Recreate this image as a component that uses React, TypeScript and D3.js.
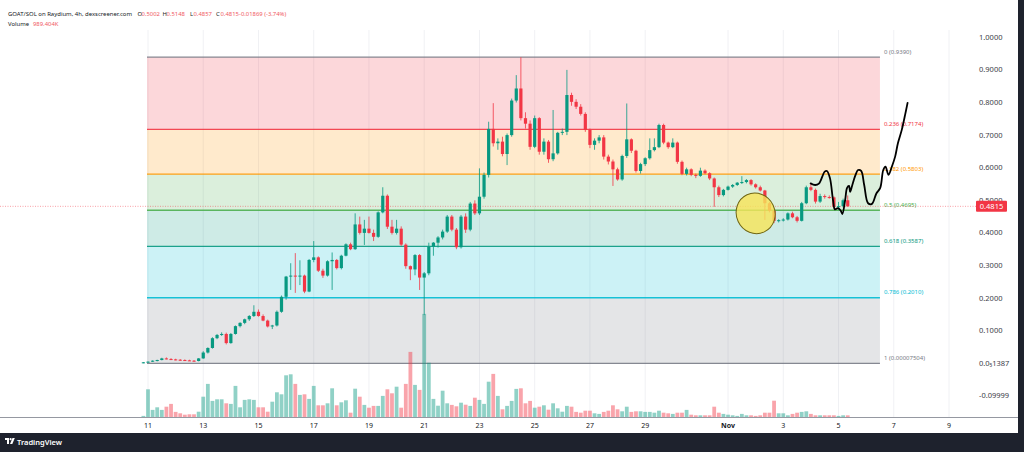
import React from 'react';
import * as d3 from 'd3';

// ---- data ----
const START = Date.UTC(2024, 9, 10, 20); // first 4h candle
const STEP = 4 * 3600 * 1000;

const opens = [
  0.0001, 0.003, 0.005, 0.008, 0.010, 0.015, 0.013, 0.012, 0.011, 0.010,
  0.009, 0.008, 0.007, 0.015, 0.033, 0.047, 0.077, 0.087, 0.090, 0.062,
  0.090, 0.114, 0.124, 0.135, 0.145, 0.158, 0.145, 0.131, 0.113, 0.116,
  0.158, 0.204, 0.266, 0.269, 0.268, 0.269, 0.220, 0.317, 0.325, 0.284,
  0.269, 0.313, 0.317, 0.292, 0.330, 0.365, 0.350, 0.426, 0.400, 0.413,
  0.400, 0.388, 0.463, 0.514, 0.419, 0.400, 0.413, 0.364, 0.298, 0.288,
  0.332, 0.263, 0.276, 0.358, 0.370, 0.386, 0.404, 0.450, 0.410, 0.356,
  0.450, 0.410, 0.490, 0.460, 0.511, 0.578, 0.719, 0.675, 0.680, 0.642,
  0.700, 0.806, 0.843, 0.752, 0.735, 0.664, 0.752, 0.649, 0.680, 0.626,
  0.644, 0.707, 0.710, 0.823, 0.802, 0.787, 0.765, 0.716, 0.670, 0.683,
  0.693, 0.634, 0.619, 0.595, 0.564, 0.636, 0.687, 0.652, 0.590, 0.611,
  0.629, 0.654, 0.663, 0.731, 0.677, 0.663, 0.677, 0.618, 0.581, 0.595,
  0.578, 0.575, 0.591, 0.583, 0.567, 0.540, 0.516, 0.532, 0.542, 0.547,
  0.554, 0.556, 0.562, 0.549, 0.540, 0.530, 0.491, 0.468, 0.437, 0.439,
  0.441, 0.460, 0.448, 0.437, 0.491, 0.540, 0.532, 0.496, 0.513, 0.510,
  0.509, 0.480, 0.482, 0.5002,
];
const highs = [
  0.004, 0.006, 0.009, 0.011, 0.017, 0.018, 0.016, 0.014, 0.013, 0.012,
  0.011, 0.010, 0.016, 0.037, 0.049, 0.080, 0.090, 0.095, 0.094, 0.093,
  0.116, 0.126, 0.137, 0.148, 0.178, 0.165, 0.150, 0.134, 0.118, 0.162,
  0.208, 0.268, 0.307, 0.338, 0.316, 0.272, 0.320, 0.375, 0.328, 0.290,
  0.316, 0.340, 0.320, 0.333, 0.368, 0.370, 0.460, 0.450, 0.440, 0.450,
  0.410, 0.466, 0.540, 0.518, 0.440, 0.440, 0.420, 0.368, 0.300, 0.335,
  0.335, 0.280, 0.370, 0.372, 0.390, 0.410, 0.455, 0.455, 0.415, 0.455,
  0.460, 0.495, 0.500, 0.598, 0.585, 0.741, 0.798, 0.690, 0.695, 0.705,
  0.812, 0.884, 0.939, 0.770, 0.745, 0.760, 0.755, 0.690, 0.685, 0.777,
  0.710, 0.720, 0.900, 0.830, 0.810, 0.795, 0.770, 0.720, 0.690, 0.700,
  0.700, 0.640, 0.625, 0.600, 0.640, 0.797, 0.690, 0.655, 0.615, 0.632,
  0.690, 0.690, 0.735, 0.735, 0.680, 0.690, 0.680, 0.622, 0.600, 0.598,
  0.582, 0.600, 0.595, 0.586, 0.570, 0.545, 0.535, 0.545, 0.550, 0.556,
  0.574, 0.565, 0.565, 0.552, 0.545, 0.532, 0.495, 0.470, 0.442, 0.445,
  0.463, 0.465, 0.452, 0.495, 0.545, 0.550, 0.536, 0.520, 0.518, 0.515,
  0.512, 0.495, 0.505, 0.5148,
];
const lows = [
  0.0001, 0.002, 0.004, 0.006, 0.009, 0.012, 0.010, 0.009, 0.008, 0.008,
  0.007, 0.006, 0.006, 0.014, 0.030, 0.045, 0.074, 0.084, 0.058, 0.060,
  0.088, 0.110, 0.120, 0.130, 0.142, 0.143, 0.129, 0.110, 0.105, 0.113,
  0.155, 0.195, 0.225, 0.216, 0.240, 0.215, 0.218, 0.310, 0.280, 0.262,
  0.266, 0.225, 0.288, 0.288, 0.328, 0.347, 0.348, 0.395, 0.363, 0.398,
  0.375, 0.385, 0.460, 0.412, 0.395, 0.395, 0.360, 0.290, 0.255, 0.270,
  0.225, 0.148, 0.270, 0.330, 0.355, 0.380, 0.400, 0.405, 0.350, 0.352,
  0.400, 0.405, 0.455, 0.455, 0.505, 0.570, 0.665, 0.655, 0.635, 0.608,
  0.695, 0.800, 0.745, 0.720, 0.655, 0.660, 0.640, 0.640, 0.615, 0.620,
  0.640, 0.700, 0.700, 0.790, 0.780, 0.760, 0.710, 0.660, 0.655, 0.675,
  0.625, 0.610, 0.544, 0.560, 0.560, 0.630, 0.645, 0.585, 0.582, 0.605,
  0.625, 0.650, 0.660, 0.672, 0.658, 0.660, 0.612, 0.577, 0.576, 0.574,
  0.568, 0.572, 0.580, 0.562, 0.480, 0.510, 0.512, 0.530, 0.538, 0.544,
  0.550, 0.552, 0.545, 0.536, 0.527, 0.440, 0.463, 0.430, 0.432, 0.435,
  0.438, 0.445, 0.432, 0.435, 0.488, 0.528, 0.490, 0.492, 0.505, 0.505,
  0.475, 0.470, 0.478, 0.4800,
];
const closes = [
  0.003, 0.005, 0.008, 0.010, 0.015, 0.013, 0.012, 0.010, 0.010, 0.009,
  0.008, 0.007, 0.015, 0.033, 0.047, 0.077, 0.087, 0.090, 0.062, 0.090,
  0.114, 0.124, 0.135, 0.145, 0.158, 0.145, 0.131, 0.113, 0.116, 0.158,
  0.204, 0.266, 0.269, 0.268, 0.269, 0.220, 0.317, 0.325, 0.284, 0.269,
  0.313, 0.317, 0.292, 0.330, 0.365, 0.350, 0.426, 0.400, 0.413, 0.400,
  0.388, 0.463, 0.514, 0.419, 0.400, 0.413, 0.364, 0.298, 0.288, 0.332,
  0.263, 0.276, 0.358, 0.370, 0.386, 0.404, 0.450, 0.410, 0.356, 0.450,
  0.410, 0.490, 0.460, 0.511, 0.578, 0.719, 0.675, 0.680, 0.642, 0.700,
  0.806, 0.843, 0.752, 0.735, 0.664, 0.752, 0.649, 0.680, 0.626, 0.644,
  0.707, 0.710, 0.823, 0.802, 0.787, 0.765, 0.716, 0.670, 0.683, 0.693,
  0.634, 0.619, 0.595, 0.564, 0.636, 0.687, 0.652, 0.590, 0.611, 0.629,
  0.654, 0.663, 0.731, 0.677, 0.663, 0.677, 0.618, 0.581, 0.595, 0.578,
  0.575, 0.591, 0.583, 0.567, 0.540, 0.516, 0.532, 0.542, 0.547, 0.554,
  0.556, 0.562, 0.549, 0.540, 0.530, 0.491, 0.468, 0.437, 0.439, 0.441,
  0.460, 0.448, 0.437, 0.491, 0.540, 0.532, 0.496, 0.513, 0.510, 0.509,
  0.480, 0.482, 0.5002, 0.4815,
];
// volume in millions
const volumes = [
  0.7, 14, 3.7, 5, 3.7, 5.3, 6.7, 2.7, 2, 1.3,
  1.5, 1.5, 2.8, 10.3, 16.7, 8.2, 9, 9, 7, 6.7,
  15.7, 5, 8.7, 9, 8.7, 5, 5, 2.8, 7.8, 12.5,
  11.5, 21, 21.5, 16.7, 11.2, 11.5, 9.2, 15.7, 6, 6,
  7, 14.5, 6, 7.5, 8.5, 2.3, 14.3, 10.3, 6.2, 4.8,
  5.7, 5.7, 10.7, 14, 12, 15.3, 4.8, 16.7, 32.7, 16.2,
  13.7, 51.7, 27.3, 9.2, 5.8, 13.3, 7, 6.2, 5.5, 7.3,
  6.3, 5.7, 9.8, 8.7, 6.7, 17.8, 21.7, 10.7, 4, 5.7,
  8.2, 14.2, 14.5, 7, 8.2, 4.8, 5.3, 6, 3.8, 7,
  4.5, 2.8, 5.7, 5.3, 2.7, 2.3, 3.3, 3.3, 2, 1.7,
  2.7, 3.3, 6, 4, 3, 5.3, 2.7, 3, 3, 2.7,
  2.7, 2.3, 3.3, 2.3, 2, 1.7, 2.3, 2.3, 3.7, 1.3,
  1, 1, 1, 1, 5.3, 2.3, 1.7, 1.3, 1, 0.7,
  1.7, 1, 1, 0.7, 1, 2.3, 2.3, 8.3, 2, 2,
  1, 1.7, 2.3, 2.7, 3, 1.7, 1, 1, 1, 1,
  1, 0.7, 1, 0.989404,
];

const priceTicks = [1, 0.9, 0.8, 0.7, 0.6, 0.5, 0.4, 0.3, 0.2, 0.1, 0, -0.09999];
const priceTickLabels = ['1.0000', '0.9000', '0.8000', '0.7000', '0.6000', '0.5000', '0.4000', '0.3000', '0.2000', '0.1000', '0.0\u20851387', '-0.09999'];

const timeTicks = [
  Date.UTC(2024, 9, 11), Date.UTC(2024, 9, 13), Date.UTC(2024, 9, 15), Date.UTC(2024, 9, 17),
  Date.UTC(2024, 9, 19), Date.UTC(2024, 9, 21), Date.UTC(2024, 9, 23), Date.UTC(2024, 9, 25),
  Date.UTC(2024, 9, 27), Date.UTC(2024, 9, 29), Date.UTC(2024, 10, 1), Date.UTC(2024, 10, 3),
  Date.UTC(2024, 10, 5), Date.UTC(2024, 10, 7), Date.UTC(2024, 10, 9),
];
const timeTickLabels = ['11', '13', '15', '17', '19', '21', '23', '25', '27', '29', 'Nov', '3', '5', '7', '9'];

const fibHigh = 0.939;
const fibLow = 0.00007504;
const fibLevels = [0, 0.236, 0.382, 0.5, 0.618, 0.786, 1];
const fibLabels = ['0 (0.9390)', '0.236 (0.7174)', '0.382 (0.5803)', '0.5 (0.4695)', '0.618 (0.3587)', '0.786 (0.2010)', '1 (0.00007504)'];
const fibColors = ['#787b86', '#f23645', '#ff9800', '#4caf50', '#089981', '#00bcd4', '#787b86'];
const fibStart = Date.UTC(2024, 9, 11, 0);
const fibEnd = Date.UTC(2024, 10, 6, 12);

// freehand drawing (days after Oct 11, price)
const drawDays = [23.99, 24.15, 24.29, 24.5, 24.58, 24.69, 24.8, 24.87, 24.98, 25.08, 25.14, 25.24, 25.31, 25.38, 25.42, 25.49, 25.6, 25.71, 25.82, 25.93, 26.07, 26.21, 26.37, 26.51, 26.62, 26.7, 26.81, 26.93, 27.05, 27.15, 27.29, 27.41, 27.5];
const drawPrices = [0.552, 0.547, 0.551, 0.588, 0.590, 0.568, 0.501, 0.472, 0.476, 0.468, 0.458, 0.501, 0.538, 0.544, 0.526, 0.544, 0.574, 0.593, 0.590, 0.547, 0.491, 0.489, 0.521, 0.538, 0.593, 0.603, 0.578, 0.603, 0.634, 0.675, 0.716, 0.762, 0.799];

const circleTime = Date.UTC(2024, 10, 2, 0);
const circlePrice = 0.46;

const lastPrice = 0.4815;

const UP = '#089981';
const DOWN = '#f23645';

export default function App() {
  const W = 1024, H = 452;
  const x = d3.scaleUtc().domain([new Date(Date.UTC(2024, 9, 11)), new Date(Date.UTC(2024, 10, 9))]).range([148, 949]);
  const y = d3.scaleLinear().domain([0, 1]).range([363.3, 37.3]);
  const yv = d3.scaleLinear().domain([0, 50]).range([417.3, 317.3]);
  const font = '"Noto Sans", "Open Sans", sans-serif';

  const candles = opens.map((o, i) => ({ t: new Date(START + i * STEP), o, h: highs[i], l: lows[i], c: closes[i], v: volumes[i] }));
  const bw = 3.2;

  const fx0 = x(new Date(fibStart)) - 1;
  const fx1 = x(new Date(fibEnd));
  const fibPrices = fibLevels.map(l => fibHigh - l * (fibHigh - fibLow));

  const line = d3.line<number>()
    .x((d, i) => x(new Date(Date.UTC(2024, 9, 11) + drawDays[i] * 86400000)))
    .y(d => y(d))
    .curve(d3.curveCatmullRom.alpha(0.5));

  const cx = x(new Date(circleTime));
  const cy = y(circlePrice);

  return (
    <svg width={W} height={H} style={{ position: 'absolute', left: 0, top: 0, background: '#fff' }} fontFamily={font}>
      <rect x={0} y={0} width={W} height={H} fill="#ffffff" />
      {/* vertical grid */}
      {timeTicks.map((t, i) => (
        <line key={'g' + i} x1={x(new Date(t))} x2={x(new Date(t))} y1={30} y2={417} stroke="#f0f1f4" strokeWidth={1} />
      ))}
      {/* fib zones */}
      {fibPrices.slice(0, -1).map((p, i) => (
        <rect key={'fz' + i} x={fx0} width={fx1 - fx0} y={y(p)} height={y(fibPrices[i + 1]) - y(p)} fill={fibColors[i + 1]} fillOpacity={0.2} />
      ))}
      {fibPrices.map((p, i) => (
        <g key={'fl' + i}>
          <line x1={fx0} x2={fx1} y1={y(p)} y2={y(p)} stroke={fibColors[i]} strokeWidth={1.3} strokeOpacity={0.9} />
          <text x={fx1 + 4} y={y(p) - 3.5} fontSize={6} fill={fibColors[i]}>{fibLabels[i]}</text>
        </g>
      ))}
      {/* volume */}
      {candles.map((d, i) => (
        <rect key={'v' + i} x={x(d.t) - bw / 2 - 0.3} width={bw + 0.6} y={yv(d.v)} height={yv(0) - yv(d.v)}
          fill={d.c >= d.o ? UP : DOWN} fillOpacity={0.45} />
      ))}
      {/* last price line */}
      <line x1={0} x2={976} y1={y(lastPrice)} y2={y(lastPrice)} stroke={DOWN} strokeWidth={0.8} strokeDasharray="1,1.5" strokeOpacity={0.6} />
      {/* candles */}
      {candles.map((d, i) => {
        const col = d.c >= d.o ? UP : DOWN;
        const top = y(Math.max(d.o, d.c));
        const bot = y(Math.min(d.o, d.c));
        return (
          <g key={'c' + i}>
            <line x1={x(d.t)} x2={x(d.t)} y1={y(d.h)} y2={y(d.l)} stroke={col} strokeWidth={0.8} />
            <rect x={x(d.t) - bw / 2} width={bw} y={top} height={Math.max(1, bot - top)} fill={col} />
          </g>
        );
      })}
      {/* highlight ellipse */}
      <ellipse cx={cx} cy={cy} rx={19.3} ry={20.5} transform={`rotate(-25 ${cx} ${cy})`} fill="#f6e45a" fillOpacity={0.82} stroke="#6f6512" strokeWidth={1} />
      {/* freehand line */}
      <path d={line(drawPrices) || ''} fill="none" stroke="#000" strokeWidth={1.8} strokeLinejoin="round" strokeLinecap="round" />

      {/* axes */}
      <line x1={0} x2={1018} y1={417.5} y2={417.5} stroke="#9598a1" strokeWidth={1} />
      {timeTicks.map((t, i) => (
        <text key={'tt' + i} x={x(new Date(t))} y={428} fontSize={7} textAnchor="middle" fill="#131722" fontWeight={timeTickLabels[i] === 'Nov' ? 700 : 400}>{timeTickLabels[i]}</text>
      ))}
      {priceTicks.map((p, i) => (
        <text key={'pt' + i} x={979} y={y(p) + 2.5} fontSize={7.5} fill="#3d4049">{priceTickLabels[i]}</text>
      ))}
      {/* last price label */}
      <rect x={976} y={y(lastPrice) - 5.5} width={31} height={11} fill={DOWN} rx={1} />
      <text x={991.5} y={y(lastPrice) + 2.6} fontSize={7.5} fill="#fff" textAnchor="middle">{lastPrice.toFixed(4)}</text>

      {/* header legend */}
      <g fontSize={5.9}>
        <text x={8} y={16} fill="#131722" textLength={124} lengthAdjust="spacingAndGlyphs">GOAT/SOL on Raydium, 4h, dexscreener.com</text>
        <text x={137.5} y={16} fill="#131722">O</text>
        <text x={141.5} y={16} fill="#f05a64">0.5002</text>
        <text x={162.5} y={16} fill="#131722">H</text>
        <text x={166.5} y={16} fill="#f05a64">0.5148</text>
        <text x={190} y={16} fill="#131722">L</text>
        <text x={193.5} y={16} fill="#f05a64">0.4857</text>
        <text x={216} y={16} fill="#131722">C</text>
        <text x={220.5} y={16} fill="#f05a64">0.4815</text>
        <text x={239} y={16} fill="#f05a64">-0.01869 (-3.74%)</text>
        <text x={8} y={26} fill="#131722">Volume</text>
        <text x={33} y={26} fill="#f05a64">989.404K</text>
      </g>

      {/* frame */}
      <rect x={1018} y={0} width={6} height={H} fill="#1e222d" />
      <rect x={0} y={433} width={W} height={19} fill="#1e222d" />
      <g transform="translate(5,438)">
        <path d="M0 0 H4 V6 H2 V2 H0 Z" fill="#fff" />
        <circle cx={5.6} cy={1.2} r={1.1} fill="#fff" />
        <path d="M7.5 0 H9.8 L7.3 6 H5 Z" fill="#fff" />
      </g>
      <text x={17} y={444.5} fontSize={7.5} fill="#ffffff" fontWeight={600}>TradingView</text>
    </svg>
  );
}
